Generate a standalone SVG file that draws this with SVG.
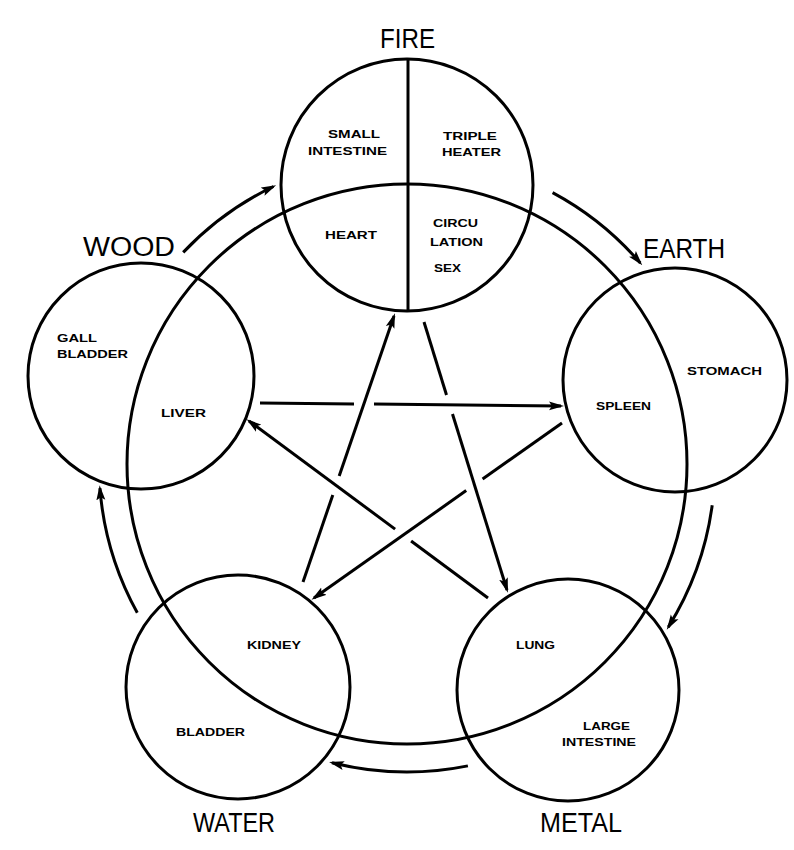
<svg xmlns="http://www.w3.org/2000/svg" width="794" height="850" viewBox="0 0 794 850">
<style>
.ring{fill:none;stroke:#000;stroke-width:3}
.ln{fill:none;stroke:#000;stroke-width:3;stroke-linecap:butt}
.big{font-family:"Liberation Sans",Arial,sans-serif;font-size:27px;fill:#000}
.sm{font-family:"Liberation Sans",Arial,sans-serif;font-size:11.5px;font-weight:bold;fill:#000}
</style>
<defs>
<marker id="ah" markerWidth="15" markerHeight="10" refX="12" refY="5" orient="auto" markerUnits="userSpaceOnUse">
<path d="M0,0.5 L15,5 L0,9.5 L3,5 z" fill="#000"/>
</marker>
</defs>
<rect width="794" height="850" fill="#fff"/>

<g id="ring">
<circle class="ring" cx="407" cy="464" r="280"/>
</g>

<g id="fire">
<circle class="ring" cx="407" cy="185" r="126"/>
<line class="ln" x1="408" y1="59" x2="408" y2="311"/>
<text class="big" x="380" y="48" textLength="55" lengthAdjust="spacingAndGlyphs">FIRE</text>
<text class="sm" x="328" y="138" textLength="52" lengthAdjust="spacingAndGlyphs">SMALL</text>
<text class="sm" x="308" y="155" textLength="79" lengthAdjust="spacingAndGlyphs">INTESTINE</text>
<text class="sm" x="443" y="140" textLength="54" lengthAdjust="spacingAndGlyphs">TRIPLE</text>
<text class="sm" x="442" y="156" textLength="59" lengthAdjust="spacingAndGlyphs">HEATER</text>
<text class="sm" x="325" y="239" textLength="52" lengthAdjust="spacingAndGlyphs">HEART</text>
<text class="sm" x="433" y="227" textLength="45" lengthAdjust="spacingAndGlyphs">CIRCU</text>
<text class="sm" x="430" y="246" textLength="53" lengthAdjust="spacingAndGlyphs">LATION</text>
<text class="sm" x="434" y="272" textLength="27" lengthAdjust="spacingAndGlyphs">SEX</text>
</g>

<g id="wood">
<circle class="ring" cx="141" cy="376" r="113"/>
<text class="big" x="83" y="256" textLength="92" lengthAdjust="spacingAndGlyphs">WOOD</text>
<text class="sm" x="57" y="342" textLength="40" lengthAdjust="spacingAndGlyphs">GALL</text>
<text class="sm" x="57" y="358" textLength="71" lengthAdjust="spacingAndGlyphs">BLADDER</text>
<text class="sm" x="161" y="417" textLength="45" lengthAdjust="spacingAndGlyphs">LIVER</text>
</g>

<g id="earth">
<circle class="ring" cx="675" cy="380" r="112"/>
<text class="big" x="643" y="258" textLength="82" lengthAdjust="spacingAndGlyphs">EARTH</text>
<text class="sm" x="687" y="375" textLength="75" lengthAdjust="spacingAndGlyphs">STOMACH</text>
<text class="sm" x="596" y="410" textLength="55" lengthAdjust="spacingAndGlyphs">SPLEEN</text>
</g>

<g id="metal">
<circle class="ring" cx="568" cy="690" r="111"/>
<text class="big" x="540" y="832" textLength="82" lengthAdjust="spacingAndGlyphs">METAL</text>
<text class="sm" x="516" y="649" textLength="39" lengthAdjust="spacingAndGlyphs">LUNG</text>
<text class="sm" x="583" y="730" textLength="47" lengthAdjust="spacingAndGlyphs">LARGE</text>
<text class="sm" x="562" y="746" textLength="74" lengthAdjust="spacingAndGlyphs">INTESTINE</text>
</g>

<g id="water">
<circle class="ring" cx="238" cy="687" r="112"/>
<text class="big" x="193" y="832" textLength="82" lengthAdjust="spacingAndGlyphs">WATER</text>
<text class="sm" x="247" y="649" textLength="54" lengthAdjust="spacingAndGlyphs">KIDNEY</text>
<text class="sm" x="176" y="736" textLength="69" lengthAdjust="spacingAndGlyphs">BLADDER</text>
</g>

<g id="connectors">
<!-- generating cycle (outer arcs) -->
<path class="ln" d="M183.2,252.4 A308,308 0 0 1 273.4,186.5" marker-end="url(#ah)"/>
<path class="ln" d="M552.6,192.6 A308,308 0 0 1 640.3,263" marker-end="url(#ah)"/>
<path class="ln" d="M712.2,505.3 A308,308 0 0 1 668.3,627.1" marker-end="url(#ah)"/>
<path class="ln" d="M467.9,765.9 A308,308 0 0 1 332,762.7" marker-end="url(#ah)"/>
<path class="ln" d="M137.3,612.8 A308,308 0 0 1 99.9,488.2" marker-end="url(#ah)"/>
<!-- control cycle (star) -->
<path class="ln" d="M260,403 L354,404"/>
<path class="ln" d="M374,404.1 L561,406" marker-end="url(#ah)"/>
<path class="ln" d="M562,423 L482.6,479"/>
<path class="ln" d="M466.2,490.6 L314,598" marker-end="url(#ah)"/>
<path class="ln" d="M303,582 L332.8,494.9"/>
<path class="ln" d="M339.2,475.9 L394,316" marker-end="url(#ah)"/>
<path class="ln" d="M424,322 L446.5,395"/>
<path class="ln" d="M452.5,414 L507,590" marker-end="url(#ah)"/>
<path class="ln" d="M488,598 L411.1,541"/>
<path class="ln" d="M395.1,529.1 L249,421" marker-end="url(#ah)"/>
</g>
</svg>
